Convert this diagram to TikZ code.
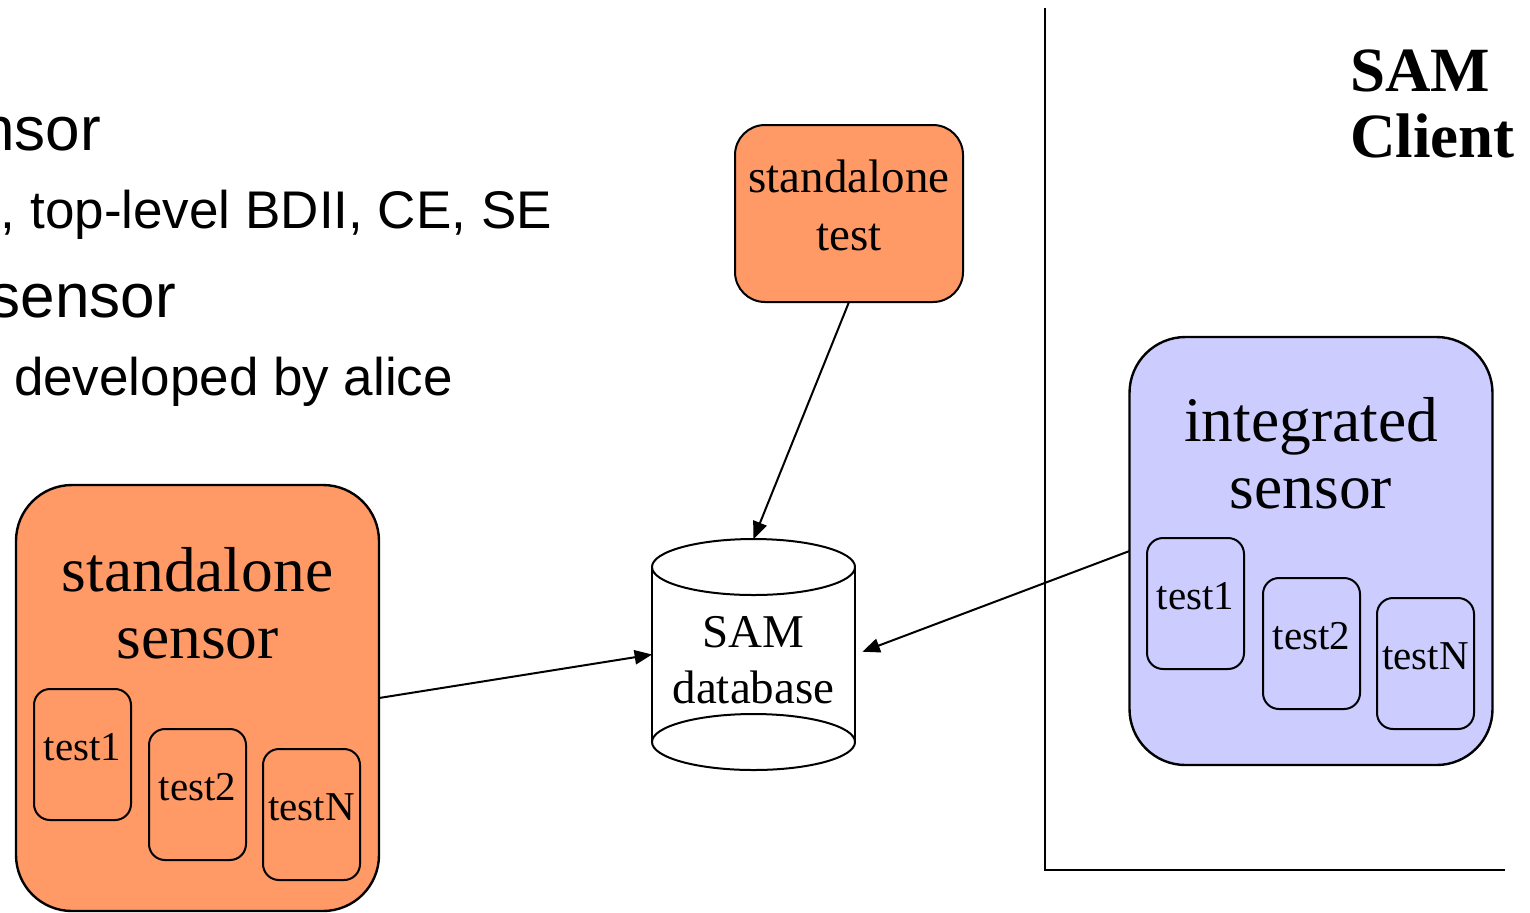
\documentclass[tikz,border=0pt]{standalone}
\usepackage{fontspec}
\setmainfont{Liberation Serif}
\newfontfamily\slidefont{Liberation Sans}
\usetikzlibrary{arrows}

\definecolor{salmon}{HTML}{FF9966}
\definecolor{lavender}{HTML}{CCCCFF}

\begin{document}
\begin{tikzpicture}[x=0.5pt,y=-0.5pt,
every node/.style={inner sep=0pt,outer sep=0pt},
sensor/.style={%
draw,line width=1.2pt,
rounded corners=28pt,
minimum width=181.5pt,
minimum height=213pt
},
testbox/.style={%
draw,line width=1pt,
rounded corners=8pt,
minimum width=48.5pt,
minimum height=65.5pt,
text height=14pt,text depth=8pt,
font=\fontsize{20.5}{24}\selectfont
},
bigtext/.style={align=center,font=\fontsize{31.75}{33.5}\selectfont},
midtext/.style={align=center,font=\fontsize{23.5}{29}\selectfont},
bullet/.style={font=\slidefont\fontsize{31}{37}\selectfont},
subbullet/.style={font=\slidefont\fontsize{26.5}{32}\selectfont},
link/.style={-{triangle 45},line width=1pt}
]
\useasboundingbox (0,0) rectangle (1530,912);
% slide text cut at the left border
\node[bullet,anchor=base east](b1)at(101,150){nsor};
\node[subbullet,anchor=base west](b2)at(1,228){, top-level BDII, CE, SE};
\node[bullet,anchor=base east](b3)at(176,317){sensor};
\node[subbullet,anchor=base west](b4)at(14,395){developed by alice};
% SAM client side
\draw[line width=1pt] (1045,8)--(1045,870)--(1505,870);
\node[anchor=north west,align=left,font=\bfseries\fontsize{31.5}{33}\selectfont](client)at(1350,50){SAM\\Client};
% sensors
\node[sensor,fill=salmon]at(197.5,698)(ss){};
\node[bigtext,anchor=north]at(197.5,547)(sstext){standalone\\sensor};
\node[testbox]at(82.5,754.5)(ss1){test1};
\node[testbox]at(197.5,794.5)(ss2){test2};
\node[testbox]at(311.5,814.5)(ssn){testN};
\node[sensor,fill=lavender,minimum height=214pt]at(1311,551)(is){};
\node[bigtext,anchor=north]at(1311,397)(istext){integrated\\sensor};
\node[testbox]at(1195.5,603.5)(is1){test1};
\node[testbox]at(1311.5,643.5)(is2){test2};
\node[testbox]at(1425.5,663.5)(isn){testN};
\node[draw,fill=salmon,line width=1pt,rounded corners=15pt,minimum width=114pt,minimum height=88.5pt]at(849,213.5)(sat){};
\node[midtext,anchor=north]at(849,160)(sattext){standalone\\test};
% database
\node[minimum width=101.5pt,minimum height=115.5pt,align=center,font=\fontsize{23.5}{28}\selectfont]at(753.5,654.5)(db){\rule{0pt}{21.5pt}SAM\\database};
\draw[line width=1pt] ([yshift=-14pt]db.north west)--([yshift=14pt]db.south west)
 ([yshift=-14pt]db.north east)--([yshift=14pt]db.south east);
\draw[line width=1pt] ([yshift=-14pt]db.north) ellipse [x radius=50.75pt,y radius=14pt];
\draw[line width=1pt] ([yshift=14pt]db.south) ellipse [x radius=50.75pt,y radius=14pt];
\draw[link] (sat.south)--(db.north);
\draw[link] (ss.east)--(db.west);
\draw[link,shorten >=4pt] (is.west)--(db.east);
\end{tikzpicture}
\end{document}
